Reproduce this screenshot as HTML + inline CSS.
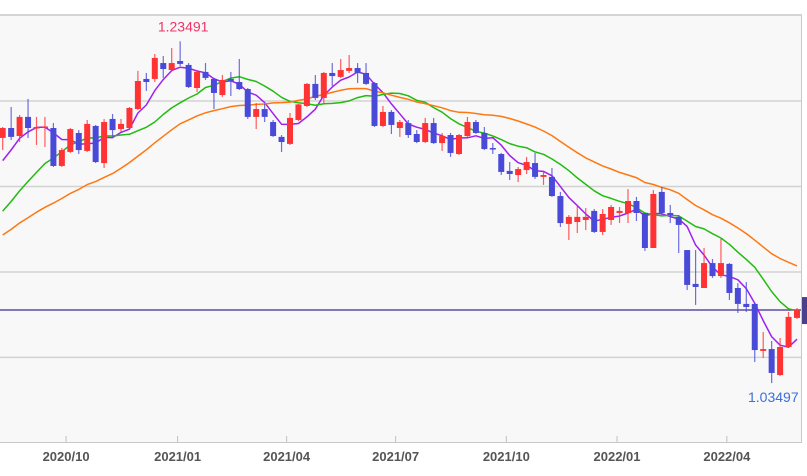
<!DOCTYPE html>
<html><head><meta charset="utf-8"><style>
html,body{margin:0;padding:0;background:#fff;}
svg{display:block;font-family:"Liberation Sans",sans-serif;}
</style></head><body>
<svg id="chart" width="807" height="476" viewBox="0 0 807 476" xmlns="http://www.w3.org/2000/svg">
<rect x="0" y="15" width="801" height="428" fill="#f8f8f8"/>
<line x1="0" y1="15" x2="802" y2="15" stroke="#c8c8c8" stroke-width="1.5"/>
<line x1="801.5" y1="15" x2="801.5" y2="443" stroke="#c8c8c8" stroke-width="1"/>
<line x1="0" y1="442.5" x2="802" y2="442.5" stroke="#c8c8c8" stroke-width="1"/>
<g id="grid"></g><g id="xaxis"></g><g id="mas"></g><g id="candles"></g><g id="labels"></g>
</svg>
<script>
const opens=[1.1784,1.1842,1.1795,1.1907,1.1845,1.1845,1.1842,1.1620,1.1702,1.1813,1.1708,1.1854,1.1637,1.1895,1.1836,1.1842,1.1953,1.2129,1.2129,1.2222,1.2181,1.2234,1.2211,1.2076,1.2170,1.2129,1.2035,1.2129,1.2111,1.2070,1.1907,1.1953,1.1877,1.1790,1.1749,1.1889,1.1971,1.2100,1.2018,1.2164,1.2141,1.2176,1.2193,1.2164,1.2105,1.1854,1.1936,1.1842,1.1871,1.1807,1.1760,1.1871,1.1754,1.1801,1.1690,1.1795,1.1877,1.1813,1.1725,1.1690,1.1591,1.1567,1.1596,1.1637,1.1556,1.1556,1.1444,1.1281,1.1292,1.1304,1.1357,1.1234,1.1304,1.1345,1.1345,1.1415,1.1345,1.1140,1.1468,1.1345,1.1322,1.1128,1.0930,1.0906,1.1052,1.0976,1.1047,1.0906,1.0813,1.0813,1.0538,1.0549,1.0397,1.0561,1.0731];
const highs=[1.1848,1.1965,1.1918,1.2012,1.1907,1.1907,1.1871,1.1725,1.1842,1.1830,1.1889,1.1860,1.1895,1.1924,1.1895,1.1965,1.2176,1.2164,1.2275,1.2263,1.2310,1.23491,1.2222,1.2181,1.2222,1.2135,1.2152,1.2170,1.2246,1.2076,1.1988,1.1983,1.1889,1.1801,1.1930,1.1983,1.2105,1.2152,1.2170,1.2222,1.2246,1.2269,1.2222,1.2222,1.2111,1.1971,1.1947,1.1889,1.1889,1.1830,1.1901,1.1901,1.1813,1.1813,1.1807,1.1907,1.1889,1.1848,1.1754,1.1696,1.1643,1.1614,1.1673,1.1696,1.1585,1.1608,1.1468,1.1333,1.1392,1.1374,1.1368,1.1368,1.1392,1.1380,1.1485,1.1439,1.1345,1.1479,1.1497,1.1392,1.1333,1.1128,1.1128,1.1140,1.1076,1.1193,1.1052,1.0935,1.0941,1.0819,1.0649,1.0596,1.0614,1.0766,1.0789];
const lows=[1.1713,1.1772,1.1760,1.1784,1.1743,1.1731,1.1614,1.1614,1.1696,1.1690,1.1702,1.1637,1.1608,1.1790,1.1819,1.1836,1.1947,1.2059,1.2111,1.2135,1.2176,1.2205,1.2076,1.2053,1.2123,1.1953,1.2024,1.2029,1.2064,1.1895,1.1836,1.1877,1.1790,1.1702,1.1743,1.1883,1.1965,1.2006,1.1988,1.2088,1.2135,1.2164,1.2105,1.2094,1.1848,1.1848,1.1807,1.1790,1.1784,1.1754,1.1754,1.1749,1.1708,1.1673,1.1684,1.1790,1.1807,1.1713,1.1690,1.1567,1.1538,1.1526,1.1573,1.1544,1.1509,1.1439,1.1263,1.1187,1.1228,1.1245,1.1228,1.1216,1.1275,1.1286,1.1286,1.1298,1.1123,1.1140,1.1333,1.1286,1.1111,1.0894,1.0807,1.0906,1.0965,1.0965,1.0836,1.0760,1.0766,1.0473,1.0497,1.03497,1.0391,1.0555,1.0725];
const closes=[1.1842,1.1790,1.1907,1.1842,1.1848,1.1851,1.1620,1.1713,1.1836,1.1713,1.1866,1.1643,1.1877,1.1830,1.1866,1.1959,1.2117,1.2111,1.2252,1.2187,1.2222,1.2217,1.2082,1.2170,1.2135,1.2047,1.2123,1.2117,1.2070,1.1907,1.1953,1.1907,1.1795,1.1760,1.1901,1.1980,1.2100,1.2018,1.2164,1.2146,1.2181,1.2193,1.2164,1.2100,1.1854,1.1936,1.1860,1.1877,1.1801,1.1760,1.1871,1.1754,1.1795,1.1696,1.1801,1.1877,1.1813,1.1719,1.1716,1.1585,1.1573,1.1602,1.1643,1.1556,1.1567,1.1444,1.1286,1.1322,1.1322,1.1322,1.1234,1.1339,1.1380,1.1357,1.1415,1.1345,1.1140,1.1456,1.1345,1.1333,1.1275,1.0924,1.0912,1.1052,1.0976,1.1052,1.0877,1.0813,1.0795,1.0543,1.0549,1.0409,1.0561,1.0737,1.0777];
const priorCloses=[1.0953,1.0924,1.1041,1.1012,1.1099,1.0982,1.1012,1.1070,1.1099,1.1129,1.1187,1.1246,1.1246,1.1058,1.1099,1.1129,1.1158,1.1175,1.1199,1.1234,1.1316,1.1480,1.1567,1.1655,1.1714];
const maPeriods=[5,13,26];
const gridPrices=[1.20,1.15,1.10,1.05];
const tickLabels=["2020/10","2021/01","2021/04","2021/07","2021/10","2022/01","2022/04"];
const tickIndex=[7.5,20.7,33.6,46.5,59.6,72.7,85.7];
const highLabel="1.23491", lowLabel="1.03497";

const NS="http://www.w3.org/2000/svg";
const X=i=>2.7+8.45*i;
const Y=p=>101+(1.2-p)*1709.4;
function mk(t,a,parent){const e=document.createElementNS(NS,t);for(const k in a)e.setAttribute(k,a[k]);parent.appendChild(e);return e;}
const grid=document.getElementById('grid');
gridPrices.forEach(p=>{
  const l=mk('line',{x1:0,x2:801,y1:Y(p),y2:Y(p),stroke:'#d2d2d2','stroke-width':1.5},grid);
  
  
});
const cur=closes[closes.length-1];
const cl=mk('line',{x1:0,x2:801,y1:Y(cur),y2:Y(cur),stroke:'#5a4ea0','stroke-width':1.5},grid);


const cm=mk('rect',{x:802,y:Y(cur)-13,width:5,height:27,fill:'#4a3f8a'},grid);



const xa=document.getElementById('xaxis');
tickLabels.forEach((t,k)=>{
  const x=X(tickIndex[k]);
  const tk=mk('line',{x1:x,x2:x,y1:436,y2:442,stroke:'#c0c0c0','stroke-width':1},xa);
  
  
  const tx=mk('text',{x:x,y:461,'text-anchor':'middle','font-size':13,'font-weight':'bold',fill:'#555'},xa);
  tx.textContent=t;
  
  
});

const all=priorCloses.concat(closes), off=priorCloses.length;
const maColors=['#a020f0','#22bb11','#ff7711'];
const mg=document.getElementById('mas');
maPeriods.forEach((n,k)=>{
  let pts=[];
  for(let i=0;i<closes.length;i++){
    const j=i+off; if(j-n+1<0) continue;
    let s=0; for(let m=j-n+1;m<=j;m++) s+=all[m];
    pts.push(X(i).toFixed(1)+','+Y(s/n).toFixed(1));
  }
  const pl=mk('polyline',{points:pts.join(' '),fill:'none',stroke:maColors[k],'stroke-width':1.5,'stroke-linejoin':'round'},mg);
  
  
});

const cg=document.getElementById('candles');
for(let i=0;i<closes.length;i++){
  const up=closes[i]>=opens[i], col=up?'#ff3333':'#4a4ad8';
  const g=mk('g',{},cg);
  
  
  const x=X(i);
  mk('line',{x1:x,x2:x,y1:Y(highs[i]),y2:Y(lows[i]),stroke:col,'stroke-width':1.2,'stroke-opacity':0.8},g);
  const t=Y(Math.max(opens[i],closes[i])), b=Y(Math.min(opens[i],closes[i]));
  mk('rect',{x:x-3,y:t,width:6,height:Math.max(b-t,1.5),fill:col},g);
}
const lg=document.getElementById('labels');
let hi=0,lo=0;for(let i=0;i<highs.length;i++){if(highs[i]>highs[hi])hi=i;if(lows[i]<lows[lo])lo=i;}
const ht=mk('text',{x:X(hi)+3,y:Y(highs[hi])-10,'text-anchor':'middle','font-size':14,fill:'#ee3366'},lg);
ht.textContent=highLabel;


const lt=mk('text',{x:748,y:Y(lows[lo])+19,'font-size':14,fill:'#3a70d8'},lg);
lt.textContent=lowLabel;


</script>
</body></html>
